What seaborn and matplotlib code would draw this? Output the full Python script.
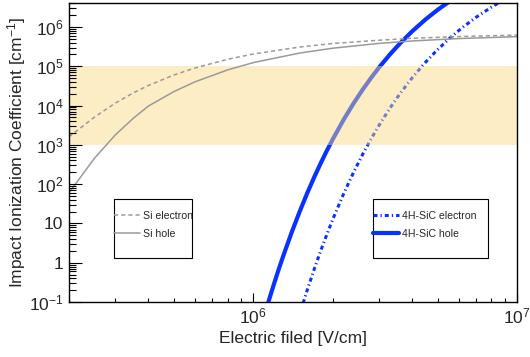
import numpy as np
import pandas as pd
import seaborn as sns
import matplotlib.pyplot as plt
from matplotlib.patches import Rectangle
from matplotlib.ticker import FixedLocator, FixedFormatter, LogLocator, NullFormatter

# Values (field in V/cm, coefficient in 1/cm)
si_field = [2.0e5, 2.5e5, 3.0e5, 3.5e5, 4.0e5, 5.0e5, 6.0e5, 8.0e5,
            1.0e6, 1.5e6, 2.0e6, 3.0e6, 4.0e6, 6.0e6, 1.0e7]
si_electron = [1.6e3, 5.1e3, 1.16e4, 2.09e4, 3.24e4, 6.0e4, 9.0e4, 1.51e5,
               2.05e5, 3.09e5, 3.8e5, 4.6e5, 5.15e5, 5.7e5, 6.2e5]
si_hole = [60, 460, 1.8e3, 4.7e3, 9.7e3, 2.27e4, 4.0e4, 8.1e4,
           1.24e5, 2.17e5, 2.88e5, 3.82e5, 4.4e5, 5.06e5, 5.67e5]

sic_hole_field = [1.10e6, 1.15e6, 1.2e6, 1.25e6, 1.3e6, 1.4e6, 1.5e6, 1.6e6,
                  1.7e6, 1.8e6, 1.9e6, 2.0e6, 2.2e6, 2.4e6, 2.6e6, 2.8e6,
                  3.0e6, 3.3e6, 3.6e6, 4.0e6, 4.5e6, 5.0e6, 5.6e6, 6.0e6]
sic_hole = [0.044, 0.12, 0.30, 0.70, 1.52, 6.1, 20.3, 58.4,
            148, 338, 709, 1.38e3, 4.36e3, 1.14e4, 2.56e4, 5.13e4,
            9.37e4, 2.02e5, 3.82e5, 7.72e5, 1.56e6, 2.73e6, 4.69e6, 6.34e6]

sic_electron_field = [1.5e6, 1.6e6, 1.7e6, 1.8e6, 1.9e6, 2.0e6, 2.2e6, 2.4e6,
                      2.6e6, 2.8e6, 3.0e6, 3.3e6, 3.6e6, 4.0e6, 4.5e6, 5.0e6,
                      5.6e6, 6.2e6, 7.0e6, 8.0e6, 9.0e6, 1.0e7]
sic_electron = [0.050, 0.198, 0.671, 1.99, 5.24, 12.6, 56.8, 200,
                579, 1.44e3, 3.17e3, 8.67e3, 2.01e4, 5.06e4, 1.27e5, 2.66e5,
                5.42e5, 9.62e5, 1.77e6, 3.2e6, 5.1e6, 7.3e6]

band_low, band_high = 1e3, 1e5

x_ticks = [1e6, 1e7]
x_tick_labels = ['$10^{6}$', '$10^{7}$']
y_ticks = [1e-1, 1, 10, 1e2, 1e3, 1e4, 1e5, 1e6]
y_tick_labels = ['$10^{-1}$', '1', '10', '$10^{2}$', '$10^{3}$',
                 '$10^{4}$', '$10^{5}$', '$10^{6}$']

si_df = pd.DataFrame({'E': si_field, 'electron': si_electron, 'hole': si_hole})
sic_h_df = pd.DataFrame({'E': sic_hole_field, 'alpha': sic_hole})
sic_e_df = pd.DataFrame({'E': sic_electron_field, 'alpha': sic_electron})

sns.set_style('ticks')
plt.rcParams['font.family'] = ['Liberation Sans', 'DejaVu Sans']
plt.rcParams['mathtext.fontset'] = 'custom'
plt.rcParams['mathtext.rm'] = 'Liberation Sans'
plt.rcParams['mathtext.it'] = 'Liberation Sans'
plt.rcParams['mathtext.default'] = 'regular'

gray = '#9a9a9a'
blue = '#0a32ff'

fig = plt.figure(figsize=(5.3, 3.57), dpi=100)
ax = fig.add_axes([0.1302, 0.154, 0.8453, 0.8376])

sns.lineplot(data=sic_e_df, x='E', y='alpha', ax=ax, color=blue, lw=2.2,
             linestyle=(0, (1.3, 1.0, 0.4, 1.0)), sort=False, estimator=None,
             label='4H-SiC electron', zorder=2)
sns.lineplot(data=sic_h_df, x='E', y='alpha', ax=ax, color=blue, lw=3.0,
             sort=False, estimator=None, label='4H-SiC hole', zorder=2)
sns.lineplot(data=si_df, x='E', y='electron', ax=ax, color=gray, lw=1.1,
             linestyle=(0, (2.7, 2.0)), sort=False, estimator=None,
             label='Si electron', zorder=4)
sns.lineplot(data=si_df, x='E', y='hole', ax=ax, color=gray, lw=1.1,
             sort=False, estimator=None, label='Si hole', zorder=4)

ax.axhspan(band_low, band_high, color=(0.976, 0.85, 0.486), alpha=0.45,
           lw=0, zorder=3)

ax.set_xscale('log')
ax.set_yscale('log')
ax.set_xlim(2e5, 1e7)
ax.set_ylim(0.1, 10 ** 6.61)

ax.xaxis.set_major_locator(FixedLocator(x_ticks))
ax.xaxis.set_major_formatter(FixedFormatter(x_tick_labels))
ax.xaxis.set_minor_locator(LogLocator(base=10, subs=np.arange(2, 10), numticks=20))
ax.xaxis.set_minor_formatter(NullFormatter())
ax.yaxis.set_major_locator(FixedLocator(y_ticks))
ax.yaxis.set_major_formatter(FixedFormatter(y_tick_labels))
ax.yaxis.set_minor_locator(LogLocator(base=10, subs=np.arange(2, 10), numticks=20))
ax.yaxis.set_minor_formatter(NullFormatter())

ax.tick_params(axis='both', which='both', direction='in', top=False, right=False,
               width=0.8, color='black', labelsize=12.5)
ax.tick_params(axis='y', which='major', length=9.6, pad=4)
ax.tick_params(axis='y', which='minor', length=4.8)
ax.tick_params(axis='x', which='major', length=6.5, pad=3.5)
ax.tick_params(axis='x', which='minor', length=3.2)
ax.xaxis.set_zorder(5)
ax.yaxis.set_zorder(5)
for sp in ax.spines.values():
    sp.set_linewidth(1.0)
    sp.set_color('black')
    sp.set_zorder(5)
ax.grid(False)

ax.set_xlabel('Electric filed [V/cm]', fontsize=12.5)
ax.set_ylabel('Impact Ionization Coefficient [cm$^{-1}$]', fontsize=12.5)
ax.xaxis.set_label_coords(0.5, -0.097)
ax.yaxis.set_label_coords(-0.0926, 0.5)

# legend boxes
for x0, w in [(0.101, 0.173), (0.679, 0.257)]:
    ax.add_patch(Rectangle((x0, 0.146), w, 0.1975, transform=ax.transAxes,
                           facecolor='white', edgecolor='black', lw=0.8, zorder=6))

handles, labels = ax.get_legend_handles_labels()
lookup = dict(zip(labels, handles))
leg_kw = dict(frameon=False, borderpad=0, borderaxespad=0, handlelength=2.45,
              handletextpad=0.25, labelspacing=0.8, fontsize=7.6, loc='upper left')
leg1 = ax.legend([lookup['Si electron'], lookup['Si hole']], ['Si electron', 'Si hole'],
                 bbox_to_anchor=(0.101, 0.306), **leg_kw)
leg1.set_zorder(7)
ax.add_artist(leg1)
leg2 = ax.legend([lookup['4H-SiC electron'], lookup['4H-SiC hole']],
                 ['4H-SiC electron', '4H-SiC hole'],
                 bbox_to_anchor=(0.679, 0.306), **leg_kw)
leg2.set_zorder(7)

fig.savefig('out.png', dpi=100)
